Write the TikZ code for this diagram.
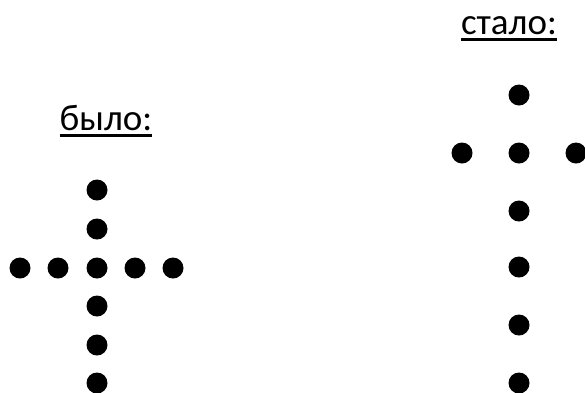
\documentclass[tikz,border=0pt]{standalone}
\usepackage{fontspec}
\setmainfont{Carlito}
\usepackage{tikz}
\usetikzlibrary{
  positioning
}
\definecolor{dotBlack}{HTML}{000000}
% thick underline as in the drawing
\newcommand{\thickul}[1]{\setbox0\hbox{#1}\rlap{\usebox0}\rule[-6.5pt]{\wd0}{3pt}}

\begin{document}
\begin{tikzpicture}[x=1pt,y=-1pt,
  dot/.style={circle, fill=dotBlack, inner sep=0pt, minimum size=21pt},
  caption/.style={font=\fontsize{37}{44}\selectfont, anchor=base, inner sep=0pt}]
  \useasboundingbox (0,0) rectangle (585,392);

  % before
  \node[caption] (before) at (106,130) {\thickul{было:}};
  \foreach \i/\y in {1/190,2/229,3/268,4/306,5/345,6/383} {
    \node[dot] (bv\i) at (97,\y) {};
  }
  \foreach \i/\x in {1/20,2/58,4/135,5/173} {
    \node[dot] (bh\i) at (\x,268) {};
  }

  % after
  \node[caption] (after) at (509,34) {\thickul{стало:}};
  \foreach \i/\y in {1/95,2/153,3/211,4/267,5/325,6/383} {
    \node[dot] (av\i) at (519,\y) {};
  }
  \node[dot] (ah1) at (462,153) {};
  \node[dot] (ah3) at (576,153) {};
\end{tikzpicture}
\end{document}
